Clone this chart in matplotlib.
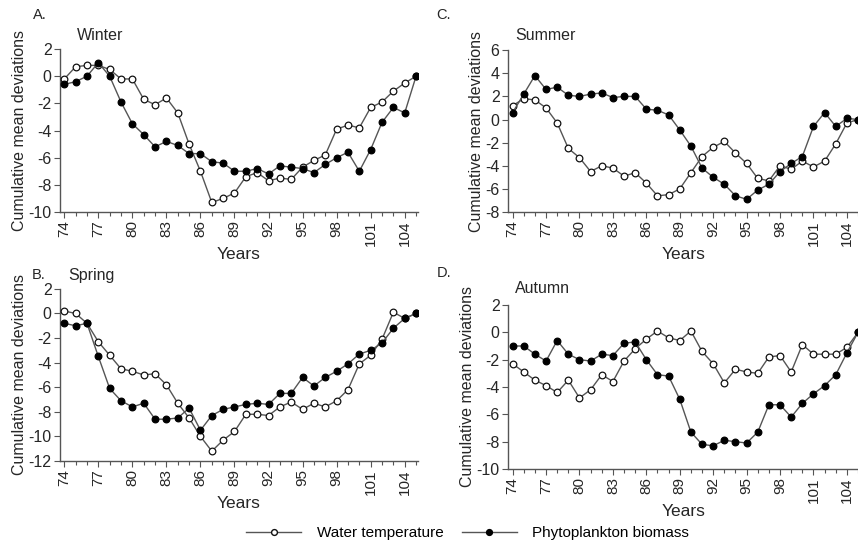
import matplotlib
matplotlib.use("Agg")
import matplotlib.pyplot as plt
from matplotlib.lines import Line2D

plt.rcParams['font.family'] = ['Liberation Sans', 'DejaVu Sans']

years = list(range(74, 106))
major_years = list(range(74, 105, 3))

# --- data ---
winter_temp = [-0.2, 0.7, 0.8, 0.8, 0.5, -0.2, -0.2, -1.7, -2.1, -1.6, -2.7, -5.0, -7.0, -9.3, -9.0, -8.6,
               -7.4, -7.1, -7.7, -7.5, -7.6, -6.7, -6.2, -5.8, -3.9, -3.6, -3.8, -2.3, -1.9, -1.1, -0.5, 0.0]
winter_phyto = [-0.6, -0.4, 0.0, 1.0, 0.0, -1.9, -3.5, -4.3, -5.2, -4.8, -5.1, -5.7, -5.7, -6.3, -6.4, -7.0,
                -7.0, -6.8, -7.2, -6.6, -6.7, -6.8, -7.1, -6.5, -6.0, -5.6, -7.0, -5.4, -3.4, -2.3, -2.7, 0.0]

summer_temp = [1.2, 1.8, 1.7, 1.0, -0.3, -2.5, -3.3, -4.5, -4.0, -4.2, -4.9, -4.6, -5.5, -6.6, -6.5, -6.0,
               -4.6, -3.2, -2.4, -1.9, -2.9, -3.8, -5.1, -5.3, -4.0, -4.3, -3.6, -4.1, -3.6, -2.1, -0.3, 0.0]
summer_phyto = [0.6, 2.2, 3.8, 2.6, 2.8, 2.1, 2.0, 2.2, 2.3, 1.9, 2.0, 2.0, 0.9, 0.8, 0.4, -0.9,
                -2.3, -4.2, -5.0, -5.6, -6.6, -6.9, -6.1, -5.6, -4.5, -3.8, -3.2, -0.6, 0.6, -0.6, 0.1, 0.0]

spring_temp = [0.2, 0.0, -0.8, -2.3, -3.4, -4.5, -4.7, -5.0, -4.9, -5.8, -7.3, -8.5, -10.0, -11.2, -10.3, -9.6,
               -8.2, -8.2, -8.3, -7.6, -7.2, -7.8, -7.3, -7.6, -7.1, -6.2, -4.1, -3.4, -2.1, 0.1, -0.4, 0.0]
spring_phyto = [-0.8, -1.0, -0.8, -3.5, -6.1, -7.1, -7.6, -7.3, -8.6, -8.6, -8.5, -7.7, -9.5, -8.3, -7.8, -7.6,
                -7.4, -7.3, -7.4, -6.5, -6.5, -5.2, -5.9, -5.2, -4.7, -4.1, -3.3, -3.0, -2.4, -1.2, -0.4, 0.0]

autumn_temp = [-2.3, -2.9, -3.5, -3.9, -4.4, -3.5, -4.8, -4.2, -3.1, -3.6, -2.1, -1.2, -0.5, 0.1, -0.4, -0.6,
               0.1, -1.4, -2.3, -3.7, -2.7, -2.9, -3.0, -1.8, -1.7, -2.9, -0.9, -1.6, -1.6, -1.6, -1.1, 0.0]
autumn_phyto = [-1.0, -1.0, -1.6, -2.1, -0.6, -1.6, -2.0, -2.1, -1.6, -1.7, -0.8, -0.7, -2.0, -3.1, -3.2, -4.9,
                -7.3, -8.2, -8.3, -7.9, -8.0, -8.1, -7.3, -5.3, -5.3, -6.2, -5.2, -4.5, -3.9, -3.1, -1.5, 0.0]

line_col = "#555555"
txt_col = "#262626"

fig = plt.figure(figsize=(8.58, 5.43), dpi=100)

# --- panels: (rect, xlim, temp, phyto, ylim, yticks, letter, letter xy, season, season xy) ---
panels = [
    ([0.0699, 0.6096, 0.417, 0.300], (73.62, 105.15), winter_temp, winter_phyto, (-10, 2), range(-10, 3, 2),
     "A.", (0.038, 0.972), "Winter", (0.090, 0.935)),
    ([0.592, 0.6096, 0.410, 0.298], (73.58, 105.15), summer_temp, summer_phyto, (-8, 6), range(-8, 7, 2),
     "C.", (0.509, 0.972), "Summer", (0.600, 0.935)),
    ([0.0699, 0.151, 0.417, 0.317], (73.62, 105.15), spring_temp, spring_phyto, (-12, 2), range(-12, 3, 2),
     "B.", (0.037, 0.494), "Spring", (0.079, 0.492)),
    ([0.592, 0.1363, 0.410, 0.302], (73.58, 105.15), autumn_temp, autumn_phyto, (-10, 2), range(-10, 3, 2),
     "D.", (0.509, 0.497), "Autumn", (0.600, 0.469)),
]

for rect, xlim, temp, phyto, ylim, yticks, letter, lxy, season, sxy in panels:
    ax = fig.add_axes(rect)
    ax.plot(years, temp, color=line_col, lw=1.0, marker="o", ms=4.8,
            mfc="white", mec="#111111", mew=0.9, zorder=3)
    ax.plot(years, phyto, color=line_col, lw=1.0, marker="o", ms=4.8,
            mfc="black", mec="black", mew=0.9, zorder=4)
    ax.set_xlim(*xlim)
    ax.set_ylim(*ylim)
    ax.set_yticks(list(yticks))
    ax.set_yticklabels([str(v) for v in yticks], fontsize=11.5, color=txt_col)
    ax.set_xticks(major_years)
    ax.set_xticks(years, minor=True)
    ax.set_xticklabels([str(v) for v in major_years], rotation=90, fontsize=11, color=txt_col)
    ax.tick_params(axis="both", which="both", direction="out", color=line_col, width=0.8)
    ax.tick_params(axis="both", which="major", length=4, pad=2)
    ax.tick_params(axis="x", which="minor", length=3)
    for s in ["top", "right"]:
        ax.spines[s].set_visible(False)
    for s in ["left", "bottom"]:
        ax.spines[s].set_color(line_col)
        ax.spines[s].set_linewidth(1.0)
    ax.set_xlabel("Years", fontsize=12.5, color=txt_col, labelpad=1)
    ax.set_ylabel("Cumulative mean deviations", fontsize=11.5, color=txt_col, labelpad=1)
    fig.text(lxy[0], lxy[1], letter, fontsize=10.5, color=txt_col, va="center")
    fig.text(sxy[0], sxy[1], season, fontsize=11.5, color=txt_col, va="center")

handles = [
    Line2D([], [], color=line_col, lw=1.0, marker="o", ms=4.2, mfc="white", mec="#111111"),
    Line2D([], [], color=line_col, lw=1.0, marker="o", ms=4.2, mfc="black", mec="black"),
]
fig.legend(handles, ["Water temperature", "Phytoplankton biomass"], loc="center",
           bbox_to_anchor=(0.545, 0.018), ncol=2, frameon=False, fontsize=11,
           handlelength=3.6, columnspacing=1.2, handletextpad=1.0)

fig.savefig("out.png", dpi=100)
